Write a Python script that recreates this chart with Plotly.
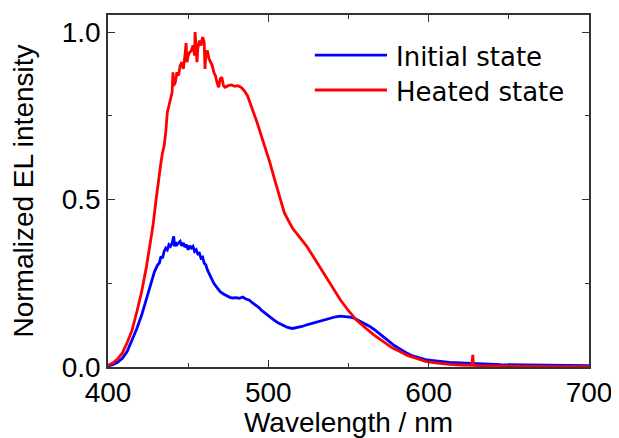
import plotly.graph_objects as go

# ---- data ----
red_wl = [400, 403, 406, 409, 412, 415, 418, 421, 424, 426, 428, 430, 431, 432, 433, 434, 435, 436, 437, 438, 439, 440, 440.5, 441,
          442, 443, 444, 445, 446, 447, 448, 448.7, 449.3, 450, 451, 452, 453, 454, 454.3, 455, 455.5, 456, 457, 458, 459, 460,
          460.5, 461, 462, 463, 464, 465, 466, 467, 468, 469, 470, 471, 472, 473, 475, 477, 479, 481, 483, 485, 487, 489, 491,
          493, 495, 497, 499, 501, 503, 505, 507, 510, 515, 520, 524, 528, 532, 536, 540, 545, 550, 555, 561, 566, 572, 577,
          582, 587, 593, 598, 603, 608, 613, 620, 625, 627, 627.5, 628, 630, 640, 650, 660, 680, 700]
red_int = [0.005, 0.012, 0.024, 0.042, 0.073, 0.11, 0.165, 0.225, 0.30, 0.355, 0.42, 0.50, 0.54, 0.58, 0.61, 0.64, 0.66, 0.70,
           0.76, 0.78, 0.80, 0.82, 0.88, 0.84, 0.85, 0.88, 0.87, 0.90, 0.91, 0.89, 0.93, 0.967, 0.91, 0.93, 0.94, 0.945, 0.96,
           0.93, 1.0, 0.95, 0.91, 0.95, 0.975, 0.96, 0.985, 0.97, 0.89, 0.93, 0.945, 0.92, 0.91, 0.90, 0.88, 0.87, 0.85, 0.835,
           0.86, 0.865, 0.84, 0.835, 0.84, 0.842, 0.838, 0.84, 0.835, 0.825, 0.81, 0.785, 0.76, 0.73, 0.70, 0.67, 0.645, 0.61,
           0.575, 0.54, 0.505, 0.46, 0.415, 0.385, 0.36, 0.33, 0.30, 0.27, 0.24, 0.20, 0.168, 0.14, 0.115, 0.095, 0.075, 0.058,
           0.046, 0.034, 0.025, 0.017, 0.013, 0.010, 0.008, 0.006, 0.005, 0.005, 0.036, 0.005, 0.004, 0.003, 0.002, 0.002,
           0.001, 0.001]

blue_wl = [400, 403, 406, 409, 412, 415, 418, 421, 424, 427, 429, 431, 432, 433, 434, 435, 436, 437, 438, 439, 440, 441, 441.5,
           442, 443, 444, 445, 446, 447, 448, 449, 450, 451, 452, 453, 454, 455, 456, 457, 458, 459, 460, 461, 462, 464, 466,
           468, 470, 472, 474, 476, 478, 480, 482, 484, 486, 488, 490, 492, 494, 496, 498, 500, 503, 506, 509, 512, 515, 518,
           521, 524, 527, 530, 533, 536, 539, 542, 545, 548, 551, 554, 557, 560, 563, 566, 569, 572, 575, 578, 581, 584, 587,
           590, 594, 598, 603, 608, 613, 620, 628, 636, 645, 660, 680, 700]
blue_int = [0.003, 0.007, 0.014, 0.026, 0.047, 0.08, 0.115, 0.155, 0.205, 0.255, 0.285, 0.305, 0.31, 0.33, 0.325, 0.345, 0.355,
            0.35, 0.365, 0.36, 0.37, 0.39, 0.36, 0.372, 0.365, 0.37, 0.375, 0.362, 0.37, 0.358, 0.365, 0.35, 0.362, 0.355, 0.36,
            0.345, 0.35, 0.338, 0.34, 0.325, 0.328, 0.31, 0.305, 0.29, 0.27, 0.25, 0.237, 0.225, 0.218, 0.212, 0.208, 0.206,
            0.207, 0.205, 0.209, 0.203, 0.2, 0.192, 0.185, 0.178, 0.168, 0.16, 0.153, 0.142, 0.132, 0.124, 0.118, 0.115, 0.117,
            0.121, 0.126, 0.13, 0.135, 0.138, 0.141, 0.145, 0.15, 0.152, 0.151, 0.149, 0.145, 0.138, 0.131, 0.122, 0.112, 0.1,
            0.088, 0.077, 0.066, 0.057, 0.048, 0.04, 0.033, 0.027, 0.022, 0.019, 0.016, 0.014, 0.012, 0.01, 0.008, 0.007,
            0.006, 0.005, 0.004]

series_names = ["Initial state", "Heated state"]
series_colors = ["#0000FF", "#FF0000"]
x_tick_vals = [400, 500, 600, 700]
y_tick_vals = [0.0, 0.5, 1.0]
y_tick_text = ["0.0", "0.5", "1.0"]

fig = go.Figure()
fig.add_trace(go.Scatter(x=blue_wl, y=blue_int, mode="lines", name=series_names[0],
                         line=dict(color=series_colors[0], width=2.8), showlegend=False))
fig.add_trace(go.Scatter(x=red_wl, y=red_int, mode="lines", name=series_names[1],
                         line=dict(color=series_colors[1], width=2.8), showlegend=False))

# manual legend (long line samples as in the reference)
leg_line_y = [0.886, 0.787]
leg_text_y = [0.8815, 0.7821]
for name, col, ly, ty in zip(series_names, series_colors, leg_line_y, leg_text_y):
    fig.add_shape(type="line", xref="paper", yref="paper", x0=0.430, x1=0.580, y0=ly, y1=ly,
                  line=dict(color=col, width=2.8))
    fig.add_annotation(xref="paper", yref="paper", x=0.594, y=ty, text=name,
                       showarrow=False, xanchor="left", yanchor="middle",
                       font=dict(family="DejaVu Sans", size=26, color="black"))

axis_common = dict(showline=True, linecolor="#333333", linewidth=1.5, mirror="ticks", ticks="inside",
                   ticklen=7, tickwidth=1, tickcolor="#333333", showgrid=False, zeroline=False,
                   automargin=False,
                   tickfont=dict(family="Liberation Sans", size=28, color="black"))

fig.update_xaxes(range=[400, 700], tickvals=x_tick_vals,
                 minor=dict(ticks="inside", dtick=50, tick0=400, ticklen=4, tickcolor="#333333"),
                 title=dict(text="Wavelength / nm", font=dict(family="Liberation Sans", size=28, color="black"), standoff=8),
                 **axis_common)
fig.update_yaxes(range=[0, 1.051], tickvals=y_tick_vals, ticktext=y_tick_text,
                 minor=dict(ticks="inside", dtick=0.25, tick0=0, ticklen=4, tickcolor="#333333"),
                 title=dict(text="Normalized EL intensity", font=dict(family="Liberation Sans", size=28, color="black"), standoff=20),
                 **axis_common)

# the page adds an 8 px body margin, so the figure is 8 px smaller and margins shifted to compensate
fig.update_layout(width=611, height=430, margin=dict(l=100, r=30, t=7, b=71),
                  plot_bgcolor="white", paper_bgcolor="white")

fig.write_html("out.html")
